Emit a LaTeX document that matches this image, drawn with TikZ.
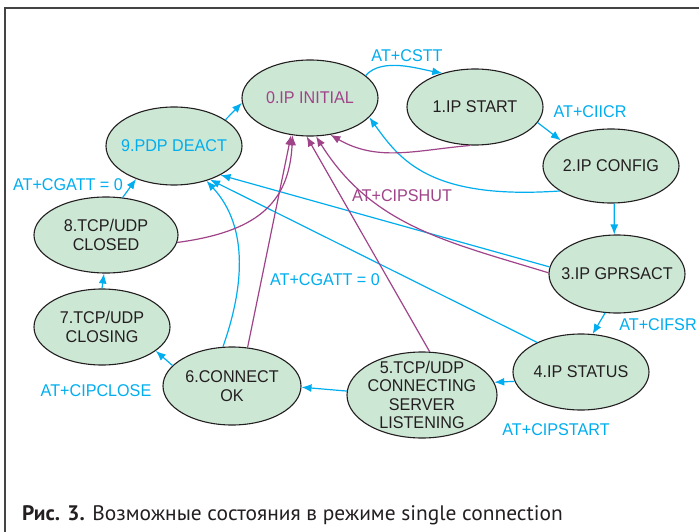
\documentclass[tikz,border=0pt]{standalone}
\usepackage{fontspec}
\setmainfont{Liberation Sans}
\newfontfamily\diagfont[FakeStretch=0.95]{Liberation Sans}
\newfontfamily\capfont[FakeStretch=1.02]{PT Sans}
\usetikzlibrary{shapes.geometric,arrows.meta}
\definecolor{cy}{HTML}{00AEEF}
\definecolor{pu}{HTML}{A0448A}
\definecolor{fillg}{HTML}{CDE7D5}
\definecolor{txt}{HTML}{231F20}
\definecolor{frame}{HTML}{444444}
\begin{document}
\begin{tikzpicture}[x=1pt,y=-1pt,
 st/.style={ellipse,draw=txt,line width=1.1pt,fill=fillg,inner sep=0pt,minimum width=136pt,minimum height=76pt},
 sttx/.style={inner sep=0pt,align=center,text=txt,font=\diagfont\fontsize{17}{18.3}\selectfont},
 lbl/.style={inner sep=0pt,text=cy,font=\diagfont\fontsize{17}{18}\selectfont},
 ca/.style={cy,line width=1.2pt,-{Latex[length=10pt,width=8pt]}},
 pa/.style={pu,line width=1.2pt,-{Latex[length=10pt,width=8pt]}},
]
\useasboundingbox (0,0) rectangle (699,532);
\fill[white] (0,0) rectangle (699,532);
\draw[frame,line width=2pt] (5,533) -- (5,8) -- (700,8);

% states
\node[st] (n0) at (310,98) {};
\node[st] (n1) at (475,107) {};
\node[st,minimum height=74pt] (n2) at (611,166) {};
\node[st,minimum height=78pt] (n3) at (617,274) {};
\node[st] (n4) at (581,372) {};
\node[st,minimum width=150pt,minimum height=86pt] (n5) at (422,395) {};
\node[st,minimum width=138pt,minimum height=78pt] (n6) at (232,386) {};
\node[st] (n7) at (102,327) {};
\node[st,minimum width=144pt] (n8) at (106,235) {};
\node[st,minimum height=78pt] (n9) at (174,146) {};

\node[sttx,text=pu] (t0) at (n0) {0.IP INITIAL};
\node[sttx] (t1) at (n1) {1.IP START};
\node[sttx] (t2) at (n2) {2.IP CONFIG};
\node[sttx] (t3) at (n3) {3.IP GPRSACT};
\node[sttx] (t4) at (n4) {4.IP STATUS};
\node[sttx] (t5) at (n5) {5.TCP/UDP\\CONNECTING\\SERVER\\LISTENING};
\node[sttx] (t6) at (n6) {6.CONNECT\\OK};
\node[sttx] (t7) at (n7) {7.TCP/UDP\\CLOSING};
\node[sttx] (t8) at (n8) {8.TCP/UDP\\CLOSED};
\node[sttx,text=cy] (t9) at (n9) {9.PDP DEACT};

% labels
\node[lbl] (l1) at (407,56) {AT+CSTT};
\node[lbl] (l2) at (590,112) {AT+CIICR};
\node[lbl] (l3) at (658,325) {AT+CIFSR};
\node[lbl] (l4) at (556,430) {AT+CIPSTART};
\node[lbl] (l5) at (96,391) {AT+CIPCLOSE};
\node[lbl] (l6) at (68,185) {AT+CGATT = 0};
\node[lbl] (l7) at (325,280) {AT+CGATT = 0};
\node[lbl,text=pu] (l8) at (402,196) {AT+CIPSHUT};

% cyan transitions
\draw[ca] (n0.22) .. controls (382,57) and (419,69) .. (n1.134);
\draw[ca] (n1.-14) -- (n2.153);
\draw[ca] (n2.-85) -- (n3.94);
\draw[ca] (n3.-107) -- (n4.73);
\draw[ca] (n4.188) -- (n5.10);
\draw[ca] (n5.177) -- (n6.-1);
\draw[ca] (n6.161) -- (n7.-24);
\draw[ca] (n7.90) -- (n8.-93);
\draw[ca] (n8.66) -- (n9.221);
\draw[ca] (n9.27) -- (n0.184);
\draw[ca] (n2.206) .. controls (430,200) and (400,160) .. (n0.-18);
\draw[ca] (n3.174) -- (n9.-32);
\draw[ca] (n4.146) -- (n9.-43);
\draw[ca] (n6.103) .. controls (243,290) and (250,228) .. (n9.-47);

% purple transitions
\draw[pa] (n1.-97) to[out=185,in=-30] (n0.-61);
\draw[pa] (n3.179) to[out=163,in=-58] (n0.-81);
\draw[pa] (n5.80) -- (n0.-95);
\draw[pa] (n6.68) -- (n0.-117);
\draw[pa] (n8.-6) .. controls (255,232) and (289,205) .. (n0.-115);

% caption
\node[anchor=base west,inner sep=0pt,text=txt] (cap) at (22,520) {\capfont\fontsize{21}{23}\selectfont\textbf{Рис. 3.} Возможные состояния в режиме single connection};
\end{tikzpicture}
\end{document}
